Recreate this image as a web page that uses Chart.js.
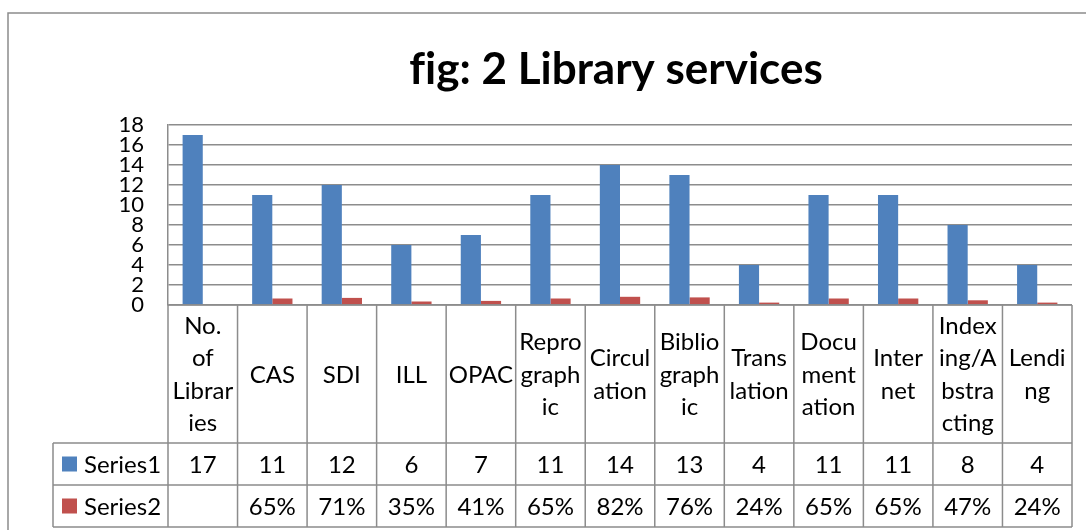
<!DOCTYPE html>
<html>
<head>
<meta charset="utf-8">
<title>fig: 2 Library services</title>
<script src="https://cdn.jsdelivr.net/npm/chart.js@4.4.0/dist/chart.umd.min.js"></script>
<style>
  html, body { margin: 0; padding: 0; background: #fff; }
  #wrap { width: 1086px; height: 530px; }
</style>
</head>
<body>
<div id="wrap"><canvas id="chart" width="1086" height="530"></canvas></div>
<script>
// chart data (category labels keep the same line breaks as the data table)
const categories = [
  ["No.", "of", "Librar", "ies"], ["CAS"], ["SDI"], ["ILL"], ["OPAC"],
  ["Repro", "graph", "ic"], ["Circul", "ation"], ["Biblio", "graph", "ic"],
  ["Trans", "lation"], ["Docu", "ment", "ation"], ["Inter", "net"],
  ["Index", "ing/A", "bstra", "cting"], ["Lendi", "ng"]
];
const series1 = [17, 11, 12, 6, 7, 11, 14, 13, 4, 11, 11, 8, 4];
const series2 = [null, 0.65, 0.71, 0.35, 0.41, 0.65, 0.82, 0.76, 0.24, 0.65, 0.65, 0.47, 0.24];
const yTicks = [0, 2, 4, 6, 8, 10, 12, 14, 16, 18];

const FONT = 'Lato, "Liberation Sans", sans-serif';
const LINE = '#8c8c8c';
const BLUE = '#4f81bd';
const RED = '#c0504d';

// frame + title + data table drawn under the plot, using the x scale positions
const tablePlugin = {
  id: 'dataTable',
  beforeDraw(chart) {
    const ctx = chart.ctx;
    ctx.save();
    ctx.fillStyle = '#fff';
    ctx.fillRect(0, 0, chart.width, chart.height);
    ctx.strokeStyle = LINE;
    ctx.lineWidth = 1.5;
    ctx.beginPath();
    ctx.moveTo(8, chart.height); ctx.lineTo(8, 13); ctx.lineTo(chart.width, 13);
    ctx.stroke();
    ctx.restore();
  },
  afterDraw(chart) {
    const ctx = chart.ctx;
    const xs = chart.scales.x;
    const area = chart.chartArea;
    const n = categories.length;
    const top = area.bottom;
    const r1 = 443, r2 = 485, bot = 527, legL = 53;

    // column edges
    const edges = [area.left];
    for (let i = 1; i < n; i++) edges.push((xs.getPixelForValue(i - 1) + xs.getPixelForValue(i)) / 2);
    edges.push(area.right);

    ctx.save();
    // title (ZWNJ keeps "f" and "i" apart, as in the original)
    ctx.fillStyle = '#000';
    ctx.font = 'bold 44px ' + FONT;
    ctx.textAlign = 'center';
    ctx.textBaseline = 'alphabetic';
    ctx.fillText('f\u200Cig: 2 Library services', 616, 84);

    // grid lines of the table
    ctx.strokeStyle = LINE;
    ctx.lineWidth = 1.5;
    ctx.beginPath();
    ctx.moveTo(area.left, top); ctx.lineTo(area.right, top);
    [r1, r2, bot].forEach(y => { ctx.moveTo(legL, y); ctx.lineTo(area.right, y); });
    edges.forEach(x => { ctx.moveTo(x, top); ctx.lineTo(x, bot); });
    ctx.moveTo(legL, r1); ctx.lineTo(legL, bot);
    ctx.stroke();

    // category labels
    ctx.font = '24px ' + FONT;
    ctx.textBaseline = 'middle';
    ctx.textAlign = 'center';
    const lh = 32.5;
    const midLab = (top + r1) / 2;
    categories.forEach((lines, i) => {
      const cx = xs.getPixelForValue(i);
      lines.forEach((t, k) => {
        ctx.fillText(t, cx, midLab + (k - (lines.length - 1) / 2) * lh + 1);
      });
    });

    // value rows
    const m1 = (r1 + r2) / 2, m2 = (r2 + bot) / 2;
    series1.forEach((v, i) => {
      if (v !== null) ctx.fillText(String(v), xs.getPixelForValue(i), m1 + 1);
    });
    series2.forEach((v, i) => {
      if (v !== null) ctx.fillText(Math.round(v * 100) + '%', xs.getPixelForValue(i), m2 + 1);
    });

    // legend keys
    ctx.textAlign = 'left';
    [[BLUE, 'Series1', m1], [RED, 'Series2', m2]].forEach(([c, t, y]) => {
      ctx.fillStyle = c;
      ctx.fillRect(62, y - 7.5, 15, 15);
      ctx.fillStyle = '#000';
      ctx.fillText(t, 84, y + 1);
    });
    ctx.restore();
  }
};

new Chart(document.getElementById('chart'), {
  type: 'bar',
  data: {
    labels: categories,
    datasets: [
      { label: 'Series1', data: series1, backgroundColor: BLUE },
      { label: 'Series2', data: series2, backgroundColor: RED }
    ]
  },
  options: {
    responsive: false,
    animation: false,
    events: [],
    categoryPercentage: 0.58,
    barPercentage: 1.0,
    layout: { padding: { left: 108, top: 125, right: 14, bottom: 225 } },
    plugins: { legend: { display: false }, title: { display: false }, tooltip: { enabled: false } },
    scales: {
      x: { display: false },
      y: {
        min: 0, max: 18,
        afterBuildTicks(s) { s.ticks = yTicks.map(v => ({ value: v })); },
        ticks: { autoSkip: false, padding: 24, color: '#000', font: { family: FONT, size: 22 } },
        grid: { color: LINE, lineWidth: 1.5, drawTicks: false },
        border: { color: LINE, width: 1.5 },
        afterFit(s) { s.width = 60; s.paddingTop = 0; s.paddingBottom = 0; }
      }
    }
  },
  plugins: [tablePlugin]
});
</script>
</body>
</html>
